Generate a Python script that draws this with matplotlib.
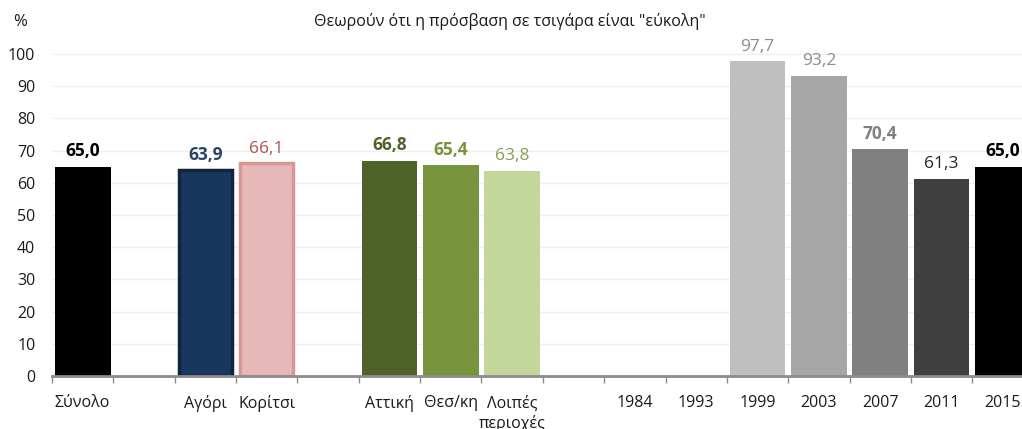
import matplotlib
matplotlib.use("Agg")
import matplotlib.pyplot as plt

plt.rcParams['font.family'] = ['Open Sans', 'DejaVu Sans']

categories = ["Σύνολο", "", "Αγόρι", "Κορίτσι", "", "Αττική", "Θεσ/κη", "Λοιπές\nπεριοχές",
              "", "1984", "1993", "1999", "2003", "2007", "2011", "2015"]
values = [65.0, None, 63.9, 66.1, None, 66.8, 65.4, 63.8,
          None, None, None, 97.7, 93.2, 70.4, 61.3, 65.0]
value_labels = ["65,0", "", "63,9", "66,1", "", "66,8", "65,4", "63,8",
                "", "", "", "97,7", "93,2", "70,4", "61,3", "65,0"]
title = 'Θεωρούν ότι η πρόσβαση σε τσιγάρα είναι "εύκολη"'

fills = ["#000000", None, "#17375e", "#e6b8b7", None, "#4f6228", "#77933c", "#c4d79b",
         None, None, None, "#bfbfbf", "#a6a6a6", "#808080", "#404040", "#000000"]
edges = [None, None, "#10243e", "#da9694", None, None, None, None,
         None, None, None, None, None, None, None, None]
label_colors = ["#000000", None, "#2a4468", "#b0504e", None, "#4f6228", "#77933c", "#86a04e",
                None, None, None, "#8c8c8c", "#8c8c8c", "#808080", "#262626", "#000000"]
label_bold = [True, False, True, False, False, True, True, False,
              False, False, False, False, False, True, False, True]

W, H = 1022, 429
fig = plt.figure(figsize=(W / 100, H / 100), dpi=100)
slot = 61.35
n = len(categories)
left_px = 52
bottom_px = 376
top_px = 54  # y = 100
ppu = (bottom_px - top_px) / 100.0
ymax = 106
ax_h = ymax * ppu
ax = fig.add_axes([left_px / W, (H - bottom_px) / H, n * slot / W, ax_h / H])
ax.set_xlim(-0.5, n - 0.5)
ax.set_ylim(0, ymax)

xs = list(range(n))
for i, v in enumerate(values):
    if v is None:
        continue
    if edges[i]:
        ax.bar(i, v, width=0.86, color=fills[i], edgecolor=edges[i], linewidth=2.5, zorder=3)
    else:
        ax.bar(i, v, width=0.91, color=fills[i], linewidth=0, zorder=3)
    ax.text(i, v + 2.0, value_labels[i], ha='center', va='bottom', fontsize=12.5,
            color=label_colors[i], fontweight='bold' if label_bold[i] else 'normal', zorder=4)

ax.set_yticks(range(0, 101, 10))
ax.set_yticklabels([str(t) for t in range(0, 101, 10)], fontsize=11.5, color='#1a1a1a')
ax.yaxis.grid(True, color='#efefef', linewidth=1)
ax.set_axisbelow(True)
ax.tick_params(axis='y', length=0, pad=12)

ax.set_xticks(xs)
ax.set_xticklabels(categories, fontsize=11.5, color='#1a1a1a', linespacing=1.3, va='top')
ax.tick_params(axis='x', length=0, pad=14)
ax.set_xticks([i - 0.5 for i in range(n)], minor=True)
ax.tick_params(axis='x', which='minor', length=5, color='#8c8c8c', width=1)

for s in ['top', 'right', 'left']:
    ax.spines[s].set_visible(False)
ax.spines['bottom'].set_color('#8c8c8c')
ax.spines['bottom'].set_linewidth(2)
ax.spines['bottom'].set_zorder(5)

fig.text(13 / W, 1 - 22 / H, "%", fontsize=12, ha='left', va='center', color='#1a1a1a')
fig.text(510 / W, 1 - 22 / H, title, fontsize=11.5, ha='center', va='center', color='#1a1a1a')

fig.savefig("out.png", dpi=100)
